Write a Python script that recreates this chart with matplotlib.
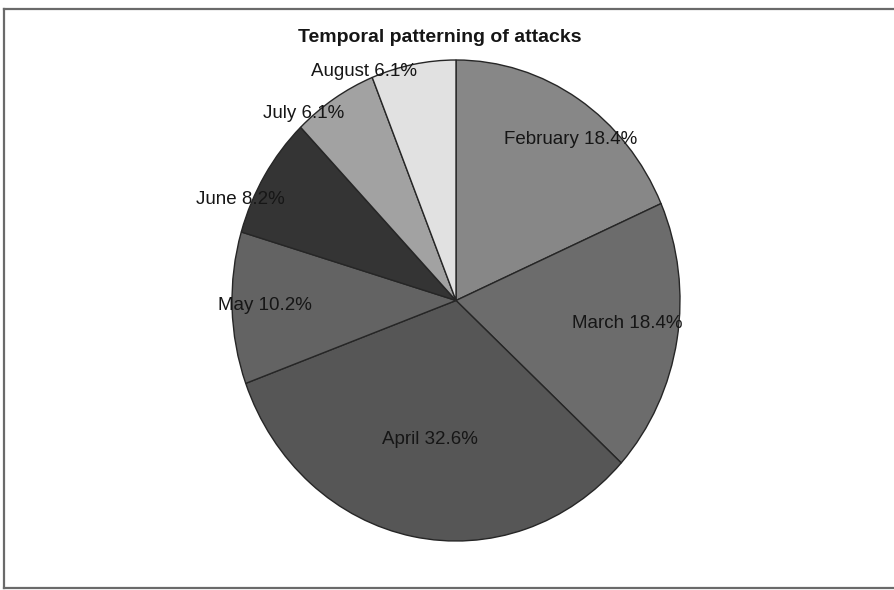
import matplotlib
matplotlib.use("Agg")
import matplotlib.pyplot as plt
from matplotlib.lines import Line2D

# Share of attacks per month (%)
months = ["February", "March", "April", "May", "June", "July", "August"]
shares = [18.4, 18.4, 32.6, 10.2, 8.2, 6.1, 6.1]
shades = ["#878787", "#6c6c6c", "#565656", "#636363", "#343434", "#a2a2a2", "#e1e1e1"]
title = "Temporal patterning of attacks"

W, H = 894, 590
plt.rcParams["font.family"] = ["Liberation Sans", "DejaVu Sans"]

fig = plt.figure(figsize=(W / 100, H / 100), dpi=100)
fig.patch.set_facecolor("white")
ax = fig.add_axes([0, 0, 1, 1])


def fx(px):
    return px / W


def fy(py):
    return 1 - py / H


# pie drawn as an ellipse slightly taller than wide
cx, cy, rx, ry = 456, 300.5, 224, 240.5
wedges, _ = ax.pie(shares, colors=shades, startangle=90, counterclock=False,
                   wedgeprops=dict(edgecolor="#262626", linewidth=1.0))
ax.set_aspect("auto")
ax.set_xlim(-cx / rx, (W - cx) / rx)
ax.set_ylim((cy - H) / ry, cy / ry)
ax.axis("off")

# data labels
label_px = [(571, 140), (627, 323), (430, 439), (265, 305), (240, 200), (304, 113), (364, 72)]
for (lx, ly), m, s in zip(label_px, months, shares):
    fig.text(fx(lx), fy(ly), f"{m} {s:.1f}%", fontsize=13.5, color="#161616",
             ha="center", va="center", zorder=5)

fig.text(fx(440), fy(37), title, fontsize=14, fontweight="bold",
         color="#161616", ha="center", va="center")

# chart border
frame = "#6a6a6a"
fig.add_artist(Line2D([fx(4), fx(W)], [fy(9), fy(9)], color=frame, lw=1.6))
fig.add_artist(Line2D([fx(4), fx(4)], [fy(9), fy(588)], color=frame, lw=1.6))
fig.add_artist(Line2D([fx(4), fx(W)], [fy(588), fy(588)], color=frame, lw=1.6))

fig.savefig("out.png", dpi=100, facecolor="white")
